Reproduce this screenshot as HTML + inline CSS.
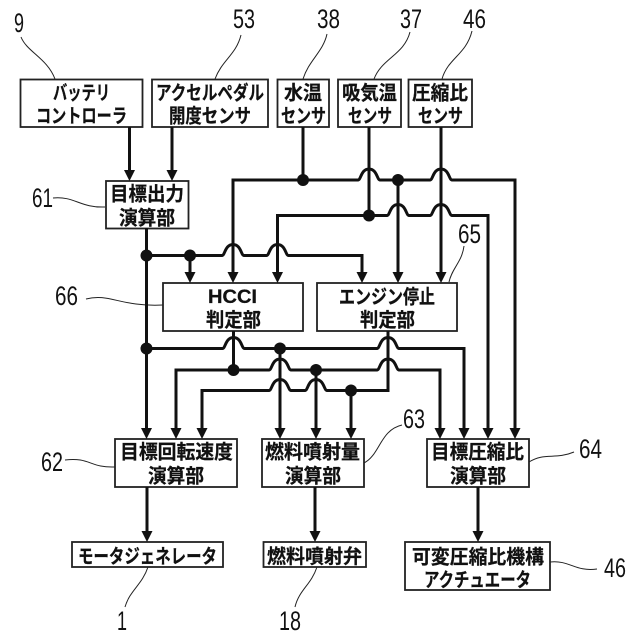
<!DOCTYPE html>
<html><head><meta charset="utf-8"><style>
html,body{margin:0;padding:0;background:#fff}
svg{display:block}
.t{font-family:"Liberation Sans","Noto Sans CJK JP",sans-serif;font-weight:700;font-size:19.5px;fill:#111;stroke:#111;stroke-width:.25}
.n{font-family:"Liberation Sans",sans-serif;font-size:27px;fill:#111}
.b{fill:#fff;stroke:#222;stroke-width:1.8}
.w{fill:none;stroke:#111;stroke-width:3}
.l{fill:none;stroke:#222;stroke-width:1}
</style></head><body>
<svg width="640" height="640" viewBox="0 0 640 640" xmlns="http://www.w3.org/2000/svg">
<rect width="640" height="640" fill="#fff"/>
<!-- leaders -->
<g class="l">
<path d="M21,37 C27,52 47,58 55,79"/>
<path d="M241,35 C236,55 222,60 215,79"/>
<path d="M327,34 C323,52 309,60 303,79"/>
<path d="M410,32 C404,55 382,58 374,79"/>
<path d="M472,31 C466,55 448,58 442,79"/>
<path d="M53,198 C75,196 80,208 105,207"/>
<path d="M86,299 C110,293 120,307 163,305"/>
<path d="M464,246 C462,262 452,268 449,282"/>
<path d="M65,460 C90,457 90,468 115,467"/>
<path d="M402,425 C380,430 380,455 364,463"/>
<path d="M529,462 C545,452 555,460 574,452"/>
<path d="M550,562 C570,560 575,572 597,569"/>
<path d="M148,567 C142,585 130,590 125,607"/>
<path d="M317,567 C311,585 299,590 295,607"/>
</g>
<!-- boxes -->
<g class="b">
<rect x="20.5" y="79.5" width="122" height="47.5"/>
<rect x="152" y="79.5" width="116" height="47.5"/>
<rect x="277.5" y="79.5" width="51.5" height="47.5"/>
<rect x="338" y="79.5" width="63" height="47.5"/>
<rect x="408.5" y="79.5" width="63.5" height="47.5"/>
<rect x="106" y="181" width="82.5" height="47.5"/>
<rect x="163" y="283" width="140" height="48"/>
<rect x="317" y="283" width="140" height="48"/>
<rect x="115" y="439" width="122" height="48"/>
<rect x="262" y="439" width="102" height="48"/>
<rect x="427" y="439" width="102" height="48"/>
<rect x="72" y="542" width="151" height="25"/>
<rect x="263.5" y="542" width="102.5" height="25"/>
<rect x="405" y="542" width="145" height="48"/>
</g>
<!-- wires -->
<g class="w">
<path d="M129.5,127V171M172,127V171M303,127V180M369,127V215.5M441,127V272"/>
<path d="M146.5,228V430M233.5,331V370M280,348.5V430M316,370V430M351,390.5V430M190,255.5V272M398,180V272"/>
<path d="M147,487V532M315,487V532M478,487V532"/>
<path d="M233,272V180H358C361,180 361,169 369,169C377,169 377,180 380,180H430C433,180 433,169 441,169C449,169 449,180 452,180H515V430"/>
<path d="M277.5,272V215.5H387C390,215.5 390,204.5 398,204.5C406,204.5 406,215.5 409,215.5H430C433,215.5 433,204.5 441,204.5C449,204.5 449,215.5 452,215.5H488V430"/>
<path d="M146.5,255.5H222C225,255.5 225,244.5 233,244.5C241,244.5 241,255.5 244,255.5H266.5C269.5,255.5 269.5,244.5 277.5,244.5C285.5,244.5 285.5,255.5 288.5,255.5H362V272"/>
<path d="M146.5,348.5H222.5C225.5,348.5 225.5,337.5 233.5,337.5C241.5,337.5 241.5,348.5 244.5,348.5H377C380,348.5 380,337.5 388,337.5C396,337.5 396,348.5 399,348.5H464V430"/>
<path d="M176,430V370H269C272,370 272,359 280,359C288,359 288,370 291,370H377C380,370 380,359 388,359C396,359 396,370 399,370H440V430"/>
<path d="M202,430V390.5H269C272,390.5 272,379.5 280,379.5C288,379.5 288,390.5 291,390.5H305C308,390.5 308,379.5 316,379.5C324,379.5 324,390.5 327,390.5H388V331"/>
</g>
<!-- arrowheads -->
<g fill="#111">
<path d="M124,170h11l-5.5,11zM166.5,170h11l-5.5,11z"/>
<path d="M184.5,272h11l-5.5,11zM227.5,272h11l-5.5,11zM272,272h11l-5.5,11zM356.5,272h11l-5.5,11zM392.5,272h11l-5.5,11zM435.5,272h11l-5.5,11z"/>
<path d="M141,428h11l-5.5,11zM170.5,428h11l-5.5,11zM196.5,428h11l-5.5,11zM274.5,428h11l-5.5,11zM310.5,428h11l-5.5,11zM345.5,428h11l-5.5,11zM434.5,428h11l-5.5,11zM458.5,428h11l-5.5,11zM482.5,428h11l-5.5,11zM509.5,428h11l-5.5,11z"/>
<path d="M141.5,531h11l-5.5,11zM309.5,531h11l-5.5,11zM472.5,531h11l-5.5,11z"/>
<circle cx="303" cy="180" r="6"/><circle cx="398" cy="180" r="6"/><circle cx="369" cy="215.5" r="6"/>
<circle cx="146.5" cy="255.5" r="6"/><circle cx="190" cy="255.5" r="6"/>
<circle cx="146.5" cy="348.5" r="6"/><circle cx="280" cy="348.5" r="6"/>
<circle cx="233.5" cy="370" r="6"/><circle cx="316" cy="370" r="6"/><circle cx="351" cy="390.5" r="6"/>
</g>
<!-- box labels -->
<g class="t">
<text x="53" y="99.5" textLength="57" lengthAdjust="spacingAndGlyphs">バッテリ</text>
<text x="36" y="122.5" textLength="91" lengthAdjust="spacingAndGlyphs">コントローラ</text>
<text x="156" y="99.5" textLength="108" lengthAdjust="spacingAndGlyphs">アクセルペダル</text>
<text x="169" y="122.5" textLength="82" lengthAdjust="spacingAndGlyphs">開度センサ</text>
<text x="284" y="99.5" textLength="38" lengthAdjust="spacingAndGlyphs">水温</text>
<text x="281" y="122.5" textLength="45" lengthAdjust="spacingAndGlyphs">センサ</text>
<text x="342" y="99.5" textLength="55" lengthAdjust="spacingAndGlyphs">吸気温</text>
<text x="348" y="122.5" textLength="44" lengthAdjust="spacingAndGlyphs">センサ</text>
<text x="412" y="99.5" textLength="56" lengthAdjust="spacingAndGlyphs">圧縮比</text>
<text x="418" y="122.5" textLength="45" lengthAdjust="spacingAndGlyphs">センサ</text>
<text x="110" y="200.5" textLength="74" lengthAdjust="spacingAndGlyphs">目標出力</text>
<text x="119" y="224.5" textLength="56" lengthAdjust="spacingAndGlyphs">演算部</text>
<text x="208" y="303" textLength="49" lengthAdjust="spacingAndGlyphs">HCCI</text>
<text x="206" y="326.5" textLength="55" lengthAdjust="spacingAndGlyphs">判定部</text>
<text x="339" y="303.5" textLength="96" lengthAdjust="spacingAndGlyphs">エンジン停止</text>
<text x="360" y="326.5" textLength="55" lengthAdjust="spacingAndGlyphs">判定部</text>
<text x="120" y="458.5" textLength="113" lengthAdjust="spacingAndGlyphs">目標回転速度</text>
<text x="148" y="482.5" textLength="56" lengthAdjust="spacingAndGlyphs">演算部</text>
<text x="265" y="458.5" textLength="95" lengthAdjust="spacingAndGlyphs">燃料噴射量</text>
<text x="285" y="482.5" textLength="56" lengthAdjust="spacingAndGlyphs">演算部</text>
<text x="431" y="458.5" textLength="93" lengthAdjust="spacingAndGlyphs">目標圧縮比</text>
<text x="450" y="482.5" textLength="56" lengthAdjust="spacingAndGlyphs">演算部</text>
<text x="78" y="563" textLength="139" lengthAdjust="spacingAndGlyphs">モータジェネレータ</text>
<text x="267" y="563" textLength="95" lengthAdjust="spacingAndGlyphs">燃料噴射弁</text>
<text x="412" y="563.5" textLength="132" lengthAdjust="spacingAndGlyphs">可変圧縮比機構</text>
<text x="424" y="586.5" textLength="107" lengthAdjust="spacingAndGlyphs">アクチュエータ</text>
</g>
<!-- reference numbers -->
<g class="n">
<text x="14" y="32" textLength="10" lengthAdjust="spacingAndGlyphs">9</text>
<text x="233" y="28" textLength="22" lengthAdjust="spacingAndGlyphs">53</text>
<text x="317" y="28" textLength="23" lengthAdjust="spacingAndGlyphs">38</text>
<text x="400" y="28" textLength="22" lengthAdjust="spacingAndGlyphs">37</text>
<text x="463" y="28" textLength="23" lengthAdjust="spacingAndGlyphs">46</text>
<text x="32" y="207" textLength="21" lengthAdjust="spacingAndGlyphs">61</text>
<text x="458" y="243" textLength="23" lengthAdjust="spacingAndGlyphs">65</text>
<text x="55" y="305" textLength="23" lengthAdjust="spacingAndGlyphs">66</text>
<text x="41" y="471" textLength="22" lengthAdjust="spacingAndGlyphs">62</text>
<text x="403" y="428" textLength="22" lengthAdjust="spacingAndGlyphs">63</text>
<text x="579" y="458" textLength="23" lengthAdjust="spacingAndGlyphs">64</text>
<text x="604" y="577" textLength="22" lengthAdjust="spacingAndGlyphs">46</text>
<text x="117" y="630" textLength="10" lengthAdjust="spacingAndGlyphs">1</text>
<text x="279" y="630" textLength="22" lengthAdjust="spacingAndGlyphs">18</text>
</g>
</svg>
</body></html>
